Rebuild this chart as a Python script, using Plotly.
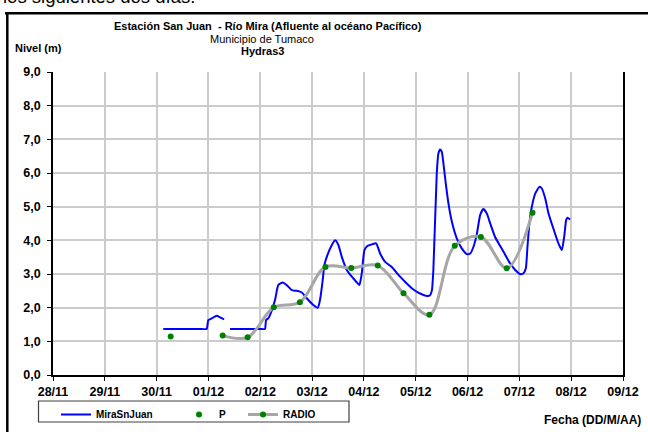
import plotly.graph_objects as go

# --- data -------------------------------------------------------------------
mira_time = [
    "2010-11-30 03:05", "2010-11-30 12:00", "2010-11-30 20:00", "2010-11-30 23:10",
    "2010-11-30 23:55", "2010-12-01 01:30", "2010-12-01 03:50", "2010-12-01 05:25",
    "2010-12-01 07:15", "2010-12-01 08:40",
    "2010-12-01 10:00", "2010-12-01 18:00", "2010-12-02 00:00", "2010-12-02 02:10",
    "2010-12-02 02:40", "2010-12-02 03:45", "2010-12-02 04:30", "2010-12-02 06:50",
    "2010-12-02 08:20", "2010-12-02 10:25", "2010-12-02 12:15", "2010-12-02 14:35",
    "2010-12-02 16:55", "2010-12-02 19:15", "2010-12-02 21:30", "2010-12-03 00:35",
    "2010-12-03 02:40", "2010-12-03 03:40", "2010-12-03 04:55", "2010-12-03 05:40",
    "2010-12-03 07:05", "2010-12-03 09:10", "2010-12-03 10:40", "2010-12-03 12:10",
    "2010-12-03 13:45", "2010-12-03 16:05", "2010-12-03 18:25", "2010-12-03 20:25",
    "2010-12-03 21:55", "2010-12-03 23:00", "2010-12-04 00:15", "2010-12-04 01:35",
    "2010-12-04 03:40", "2010-12-04 05:40", "2010-12-04 07:30", "2010-12-04 09:50",
    "2010-12-04 12:55", "2010-12-04 16:45", "2010-12-04 19:50", "2010-12-04 22:55",
    "2010-12-05 02:00", "2010-12-05 05:10", "2010-12-05 06:40", "2010-12-05 07:30",
    "2010-12-05 08:10", "2010-12-05 09:45", "2010-12-05 10:30", "2010-12-05 11:20",
    "2010-12-05 12:05", "2010-12-05 12:50", "2010-12-05 13:55", "2010-12-05 15:10",
    "2010-12-05 16:45", "2010-12-05 19:00", "2010-12-05 21:20", "2010-12-05 23:40",
    "2010-12-06 01:15", "2010-12-06 02:45", "2010-12-06 04:20", "2010-12-06 05:50",
    "2010-12-06 07:20", "2010-12-06 08:55", "2010-12-06 10:30", "2010-12-06 12:45",
    "2010-12-06 16:40", "2010-12-06 19:45", "2010-12-06 22:05", "2010-12-07 00:20",
    "2010-12-07 01:55", "2010-12-07 03:00", "2010-12-07 03:45", "2010-12-07 04:40",
    "2010-12-07 05:45", "2010-12-07 07:20", "2010-12-07 09:20", "2010-12-07 10:25",
    "2010-12-07 12:00", "2010-12-07 13:30", "2010-12-07 15:45", "2010-12-07 18:05",
    "2010-12-07 19:40", "2010-12-07 20:45", "2010-12-07 21:40", "2010-12-07 22:15",
    "2010-12-07 23:30",
]
mira_level = [
    1.37, 1.37, 1.37, 1.37, 1.63, 1.68, 1.76, 1.71, 1.65, None,
    1.37, 1.37, 1.37, 1.37, 1.63, 1.69, 1.78, 2.23, 2.67, 2.75,
    2.67, 2.52, 2.50, 2.45, 2.28, 2.08, 2.00, 2.23, 2.82, 3.26,
    3.56, 3.86, 4.00, 3.86, 3.51, 3.12, 2.92, 2.77, 2.67, 3.02,
    3.71, 3.83, 3.88, 3.91, 3.61, 3.36, 3.21, 2.92, 2.72, 2.54,
    2.42, 2.35, 2.37, 2.52, 3.12, 6.00, 6.58, 6.70, 6.63, 6.28,
    5.69, 5.09, 4.55, 4.06, 3.76, 3.59, 3.61, 3.81, 4.20, 4.75,
    4.93, 4.80, 4.50, 4.10, 3.66, 3.31, 3.12, 3.00, 3.02, 3.17,
    3.81, 4.50, 4.99, 5.39, 5.59, 5.54, 5.24, 4.80, 4.35, 3.91,
    3.71, 4.10, 4.60, 4.67, 4.62,
]

p_time = ["2010-11-30 06:30"]
p_level = [1.14]

radio_time = [
    "2010-12-01 06:35", "2010-12-01 18:10", "2010-12-02 06:15", "2010-12-02 18:20",
    "2010-12-03 06:10", "2010-12-03 18:10", "2010-12-04 06:25", "2010-12-04 18:20",
    "2010-12-05 06:20", "2010-12-05 18:05", "2010-12-06 06:10", "2010-12-06 18:10",
    "2010-12-07 06:05",
]
radio_level = [1.17, 1.12, 2.01, 2.16, 3.21, 3.18, 3.25, 2.43, 1.79, 3.84, 4.10, 3.17, 4.82]

y_ticks = [0, 1, 2, 3, 4, 5, 6, 7, 8, 9]

# --- page geometry (pixels) -------------------------------------------------
W, H = 648, 432
L, R, T, B = 53, 25, 72, 57
PW, PH = W - L - R, H - T - B


def px(x):
    return (x - L) / PW


def py(y):
    return (H - B - y) / PH


FONT = "Liberation Sans, Arial, sans-serif"

fig = go.Figure()

fig.add_trace(go.Scatter(
    x=mira_time, y=mira_level, name="MiraSnJuan", mode="lines",
    line=dict(color="#0000ff", width=2, shape="spline", smoothing=0.5),
    connectgaps=False, legend="legend",
))
fig.add_trace(go.Scatter(
    x=p_time, y=p_level, name="P", mode="markers",
    marker=dict(color="#008000", size=6), legend="legend2",
))
fig.add_trace(go.Scatter(
    x=radio_time, y=radio_level, name="RADIO", mode="lines+markers",
    line=dict(color="#a6a6a6", width=3, shape="spline", smoothing=1),
    marker=dict(color="#008000", size=6), legend="legend3",
))


def legend_at(x_px):
    return dict(
        orientation="h", x=px(x_px), y=py(400), xanchor="left", yanchor="top",
        bgcolor="rgba(0,0,0,0)", borderwidth=0,
        font=dict(size=10, family=FONT, weight="bold", color="black"),
        itemwidth=30,
    )


fig.update_layout(
    width=W, height=H,
    margin=dict(l=L, r=R, t=T, b=B, autoexpand=False),
    paper_bgcolor="white", plot_bgcolor="white",
    separators=",.",
    font=dict(family=FONT, color="black"),
    showlegend=True,
    legend=legend_at(56),
    legend2=legend_at(179),
    legend3=legend_at(243),
)

fig.update_xaxes(
    type="date",
    range=["2010-11-28", "2010-12-09"],
    dtick=86400000, tick0="2010-11-28", tickformat="%d/%m",
    showgrid=True, gridcolor="#cccccc", gridwidth=1.5,
    showline=True, linecolor="black", linewidth=1.5,
    ticks="outside", ticklen=4, tickcolor="black",
    tickfont=dict(size=12.5, family=FONT, weight="bold"),
    zeroline=False,
)
fig.update_yaxes(
    range=[0, 9], tickvals=y_ticks, tickformat=".1f",
    showgrid=True, gridcolor="#cccccc", gridwidth=1.5,
    showline=True, linecolor="black", linewidth=1.5, mirror=True,
    ticks="outside", ticklen=4, tickcolor="black", ticklabelstandoff=4,
    tickfont=dict(size=12.5, family=FONT, weight="bold"),
    zeroline=False,
)

annotations = [
    dict(text="Estación San Juan  - Río Mira (Afluente al océano Pacífico)",
         x=px(268), y=py(26), font=dict(size=11, weight="bold")),
    dict(text="Municipio de Tumaco", x=px(262), y=py(39), font=dict(size=11)),
    dict(text="Hydras3", x=px(262), y=py(51), font=dict(size=11, weight="bold")),
    dict(text="Nivel (m)", x=px(13), y=py(48), xanchor="left", font=dict(size=11, weight="bold")),
    dict(text="Fecha (DD/M/AA)", x=px(643), y=py(420), xanchor="right",
         font=dict(size=12, weight="bold")),
    dict(text="los siguientes dos días.", x=px(1), y=py(-4), xanchor="left",
         font=dict(size=18.5)),
]
for a in annotations:
    a.setdefault("xanchor", "center")
    a["font"] = dict(family=FONT, color="black", **a["font"])
    fig.add_annotation(xref="paper", yref="paper", yanchor="middle",
                       showarrow=False, **a)

# legend frame
fig.add_shape(type="rect", xref="paper", yref="paper",
              x0=px(38.5), x1=px(349), y0=py(401), y1=py(422),
              line=dict(color="#404040", width=1.2), fillcolor="rgba(0,0,0,0)")

# outer frame of the chart object
fig.add_shape(type="line", xref="paper", yref="paper",
              x0=px(5), x1=px(660), y0=py(13.3), y1=py(13.3),
              line=dict(color="black", width=2.5))
fig.add_shape(type="line", xref="paper", yref="paper",
              x0=px(7.3), x1=px(7.3), y0=py(13.3), y1=py(440),
              line=dict(color="black", width=2.5))

fig.write_html("out.html")
